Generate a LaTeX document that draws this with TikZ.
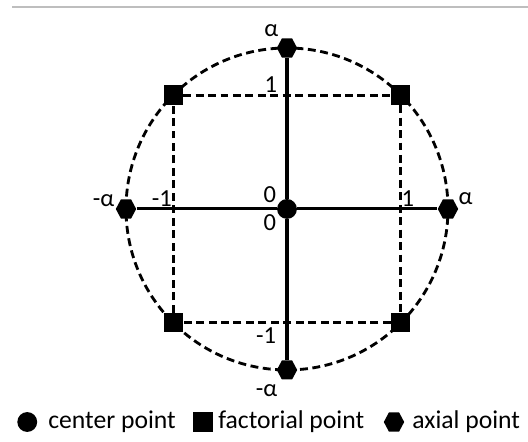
\documentclass[tikz,border=0pt]{standalone}
\usepackage{fontspec}
\setmainfont{Carlito}
\usepackage{xcolor}
\usetikzlibrary{arrows.meta,positioning,shapes.geometric}
\definecolor{Rgray}{RGB}{190,190,190}
\newcommand{\ptfont}{\fontsize{13}{15}\selectfont}
\newcommand{\keyfont}{\fontsize{13.6}{16}\selectfont}
\tikzset{
  axisline/.style={line width=1.6pt, draw=black},
  dashline/.style={line width=1.5pt, draw=black, dash pattern=on 4.2pt off 2.4pt},
  centerpt/.style={circle, fill=black, inner sep=0pt, minimum size=0.37cm},
  factpt/.style={rectangle, fill=black, inner sep=0pt, minimum size=0.36cm},
  axialpt/.style={regular polygon, regular polygon sides=6, fill=black, inner sep=0pt, minimum size=0.38cm, yscale=1.08},
  lbl/.style={inner sep=0pt, font=\ptfont},
  legtext/.style={inner sep=0pt, anchor=base west, font=\keyfont}
}
\begin{document}
\begin{tikzpicture}
  \useasboundingbox (-5.348,-4.342) rectangle (4.491,3.894);
  \draw[Rgray, line width=0.8pt] (-5.124,3.764) -- (4.491,3.764);

  % circle of the axial points
  \draw[dashline] (0,0) circle (3);

  % design points
  \node[centerpt] (c) at (0,0) {};
  \node[factpt] (f1) at (-2.121,2.121) {};
  \node[factpt] (f2) at (2.121,2.121) {};
  \node[factpt] (f3) at (2.121,-2.121) {};
  \node[factpt] (f4) at (-2.121,-2.121) {};
  \node[axialpt] (aT) at (0,3) {};
  \node[axialpt] (aB) at (0,-3) {};
  \node[axialpt] (aL) at (-3,0) {};
  \node[axialpt] (aR) at (3,0) {};

  \draw[dashline] (f1) -- (f2) -- (f3) -- (f4) -- (f1);
  \draw[axisline] (aT) -- (c) -- (aB);
  \draw[axisline] (aL) -- (c) -- (aR);

  % axis labels
  \node[lbl] (lT) at (-0.29,3.33) {α};
  \node[lbl] (l1T) at (-0.30,2.32) {1};
  \node[lbl] (l0a) at (-0.32,0.26) {0};
  \node[lbl] (l0b) at (-0.32,-0.26) {0};
  \node[lbl] (l1L) at (-2.33,0.20) {-1};
  \node[lbl] (l1R) at (2.25,0.19) {1};
  \node[lbl] (lR) at (3.33,0.20) {α};
  \node[lbl] (lL) at (-3.42,0.16) {-α};
  \node[lbl] (l1B) at (-0.39,-2.36) {-1};
  \node[lbl] (lB) at (-0.38,-3.38) {-α};

  % legend
  \node[centerpt] (kc) at (-4.84,-3.97) {};
  \node[legtext] (kct) at (-4.454,-4.10) {center point};
  \node[factpt] (kf) at (-1.565,-3.97) {};
  \node[legtext] (kft) at (-1.286,-4.10) {factorial point};
  \node[axialpt] (ka) at (1.994,-3.97) {};
  \node[legtext] (kat) at (2.329,-4.10) {axial point};
\end{tikzpicture}
\end{document}
